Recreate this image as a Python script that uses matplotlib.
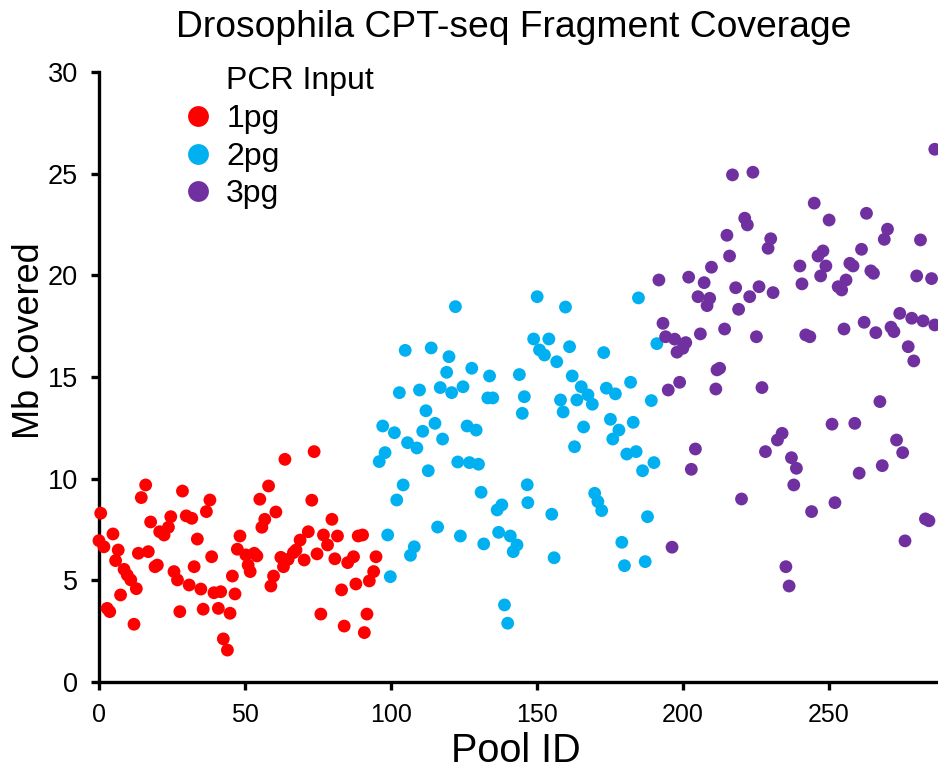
import matplotlib
matplotlib.use("Agg")
import matplotlib.pyplot as plt
from matplotlib.lines import Line2D

plt.rcParams["font.family"] = ["Liberation Sans", "DejaVu Sans"]

# Pool ID / Mb covered
pool_1pg = [0, 0.6, 1.7, 2.8, 3.7, 4.8, 5.7, 6.6, 7.4, 8.6, 9.7, 10.9, 12.0, 12.8, 13.5,
            14.5, 16.0, 16.9, 17.7, 19.2, 20.0, 20.8, 22.3, 23.8, 24.6, 25.7, 26.9, 27.7,
            28.6, 29.9, 30.9, 31.8, 32.6, 33.7, 34.9, 35.7, 36.8, 38.0, 38.6, 39.4, 40.9,
            41.7, 42.6, 44.0, 44.9, 45.7, 46.6, 47.4, 48.3, 50.3, 51.1, 51.8, 53.2, 54.1,
            55.1, 55.8, 56.8, 58.1, 58.9, 59.8, 60.6, 62.3, 63.2, 63.7, 64.8, 66.6, 67.5,
            68.9, 70.3, 71.7, 72.9, 73.7, 74.7, 76.0, 76.9, 78.3, 79.8, 80.8, 81.7, 83.1,
            84.0, 85.2, 87.2, 88.0, 88.8, 90.3, 90.9, 91.8, 92.6, 94.1, 94.9]
mb_1pg = [6.95, 8.30, 6.65, 3.62, 3.46, 7.28, 5.97, 6.49, 4.28, 5.54, 5.26, 5.02, 2.84, 4.59,
          6.33, 9.07, 9.69, 6.41, 7.87, 5.67, 5.75, 7.39, 7.23, 7.61, 8.13, 5.43, 5.02, 3.46,
          9.39, 8.17, 4.77, 8.05, 5.67, 7.03, 4.57, 3.58, 8.38, 8.95, 6.16, 4.39, 3.62, 4.44,
          2.12, 1.57, 3.38, 5.21, 4.33, 6.53, 7.18, 6.25, 5.75, 5.43, 6.33, 6.20, 8.99, 7.61,
          8.00, 9.64, 4.72, 5.21, 8.36, 6.13, 5.67, 10.95, 6.03, 6.36, 6.49, 6.98, 6.00, 7.39,
          8.94, 11.33, 6.30, 3.34, 7.23, 6.74, 8.00, 6.06, 7.18, 4.53, 2.75, 5.87, 6.16, 4.82,
          7.18, 7.23, 2.43, 3.34, 4.97, 5.43, 6.16]

pool_2pg = [96.0, 97.2, 98.0, 98.9, 99.8, 101.2, 102.0, 102.9, 104.2, 104.9, 105.7, 106.7,
            108.0, 108.9, 109.8, 110.9, 112.0, 112.8, 113.8, 115.1, 116.0, 116.9, 117.7,
            119.1, 119.9, 120.8, 122.1, 122.9, 123.8, 124.7, 126.1, 126.9, 127.7, 129.2,
            130.0, 130.9, 131.8, 133.2, 133.8, 134.9, 136.4, 136.9, 138.0, 138.9, 140.0,
            140.9, 141.9, 143.2, 144.0, 145.0, 145.7, 146.7, 146.9, 148.9, 150.1, 150.9,
            152.6, 154.1, 155.1, 155.9, 156.8, 158.1, 159.0, 159.8, 161.2, 162.1, 162.9,
            163.7, 165.2, 166.0, 167.5, 169.0, 169.8, 170.9, 172.2, 172.9, 173.8, 175.2,
            176.0, 176.9, 178.1, 179.1, 180.0, 180.8, 182.1, 183.0, 184.0, 184.8, 186.2,
            187.1, 187.9, 189.2, 190.1, 191.1]
mb_2pg = [10.84, 12.59, 11.28, 7.23, 5.18, 12.26, 8.95, 14.23, 9.69, 16.31, 11.77, 6.23,
          6.65, 11.51, 14.36, 12.33, 13.34, 10.39, 16.43, 12.72, 7.62, 14.48, 11.95, 15.23,
          16.00, 14.23, 18.46, 10.82, 7.18, 14.52, 12.59, 10.79, 15.43, 12.39, 10.71, 9.33,
          6.79, 13.97, 15.05, 13.97, 8.46, 7.36, 8.71, 3.79, 2.89, 7.18, 6.41, 6.74, 15.12,
          13.21, 14.03, 9.70, 8.82, 16.87, 18.95, 16.33, 16.08, 16.87, 8.25, 6.11, 15.75,
          13.87, 13.28, 18.44, 16.49, 15.05, 11.57, 13.87, 14.52, 12.54, 14.12, 13.66, 9.28,
          8.87, 8.43, 16.20, 14.45, 12.92, 11.95, 14.17, 12.39, 6.87, 5.72, 11.21, 14.74,
          12.77, 11.33, 18.89, 10.39, 5.92, 8.13, 13.84, 10.79, 16.64]

pool_3pg = [191.8, 193.2, 194.1, 195.0, 196.3, 197.2, 198.0, 198.9, 200.0, 201.0, 202.0,
            202.9, 204.3, 205.2, 206.0, 207.3, 208.3, 209.2, 209.8, 211.3, 211.7, 212.6,
            214.3, 215.1, 216.0, 217.0, 218.1, 219.1, 220.1, 221.2, 222.1, 222.9, 224.0,
            225.2, 226.1, 227.1, 228.3, 229.2, 230.1, 230.9, 232.4, 234.0, 235.3, 236.4,
            237.2, 238.0, 238.9, 240.1, 240.8, 242.1, 243.5, 244.1, 245.0, 246.3, 247.2,
            248.0, 249.0, 250.1, 251.1, 252.1, 253.2, 254.4, 255.2, 255.9, 257.2, 258.3,
            258.9, 260.4, 261.2, 262.1, 262.9, 264.4, 265.3, 266.1, 267.5, 268.3, 269.0,
            270.1, 271.3, 272.3, 273.2, 274.3, 275.3, 276.1, 277.2, 278.4, 279.1, 280.1,
            281.4, 282.3, 283.1, 284.3, 285.2, 286.3, 286.3]
mb_3pg = [19.77, 17.64, 16.98, 14.36, 6.63, 16.86, 16.22, 14.74, 16.41, 16.69, 19.91, 10.46,
          11.46, 18.95, 17.12, 19.64, 18.51, 18.87, 20.40, 14.41, 15.35, 15.43, 17.36, 21.97,
          20.95, 24.94, 19.39, 18.33, 9.00, 22.81, 22.48, 18.95, 25.07, 16.98, 19.44, 14.48,
          11.33, 21.33, 21.80, 19.15, 11.90, 12.23, 5.67, 4.72, 11.03, 9.69, 10.51, 20.46,
          19.58, 17.07, 16.98, 8.38, 23.55, 20.95, 19.97, 21.20, 20.46, 22.72, 12.68, 8.82,
          19.44, 19.28, 17.36, 19.77, 20.59, 20.46, 12.72, 10.27, 21.28, 17.69, 23.05, 20.22,
          20.10, 17.18, 13.79, 10.64, 21.77, 22.27, 17.45, 17.23, 11.90, 18.13, 11.28, 6.94,
          16.49, 17.89, 15.79, 19.97, 21.74, 17.76, 8.02, 7.93, 19.84, 17.56, 26.20]

groups = [("1pg", pool_1pg, mb_1pg, "#FF0000"),
          ("2pg", pool_2pg, mb_2pg, "#00B0F0"),
          ("3pg", pool_3pg, mb_3pg, "#7030A0")]

fig = plt.figure(figsize=(9.38, 7.7), dpi=100)
ax = fig.add_axes([0.1055, 0.1143, 0.8945, 0.7922])

for label, xs, ys, color in groups:
    ax.scatter(xs, ys, s=85, color=color, edgecolors="none", clip_on=False, zorder=3)

ax.set_xlim(0, 287.4)
ax.set_ylim(0, 30)
ax.set_xticks([0, 50, 100, 150, 200, 250])
ax.set_yticks([0, 5, 10, 15, 20, 25, 30])
ax.spines["top"].set_visible(False)
ax.spines["right"].set_visible(False)
for s in ("left", "bottom"):
    ax.spines[s].set_linewidth(2.4)
ax.tick_params(axis="both", direction="out", length=6, width=2.4)
ax.tick_params(axis="x", labelsize=18, pad=9)
ax.tick_params(axis="y", labelsize=19.5, pad=9)

ax.set_xlabel("Pool ID", fontsize=28.5)
ax.xaxis.set_label_coords(0.497, -0.082)
ax.set_ylabel("Mb Covered", fontsize=26)
ax.yaxis.set_label_coords(-0.062, 0.56)
ax.set_title("Drosophila CPT-seq Fragment Coverage", fontsize=26.8, pad=25, x=0.4946)

handles = [Line2D([], [], linestyle="none", marker="")]
labels = ["PCR Input"]
for label, xs, ys, color in groups:
    handles.append(Line2D([], [], linestyle="none", marker="o", markersize=15,
                          markerfacecolor=color, markeredgecolor="none"))
    labels.append(label)
ax.legend(handles, labels, loc="upper left", bbox_to_anchor=(0.087, 1.03), frameon=False,
          fontsize=23, handlelength=0.8, handletextpad=0.5, labelspacing=0.24,
          borderaxespad=0)

fig.savefig("out.png", dpi=100)
